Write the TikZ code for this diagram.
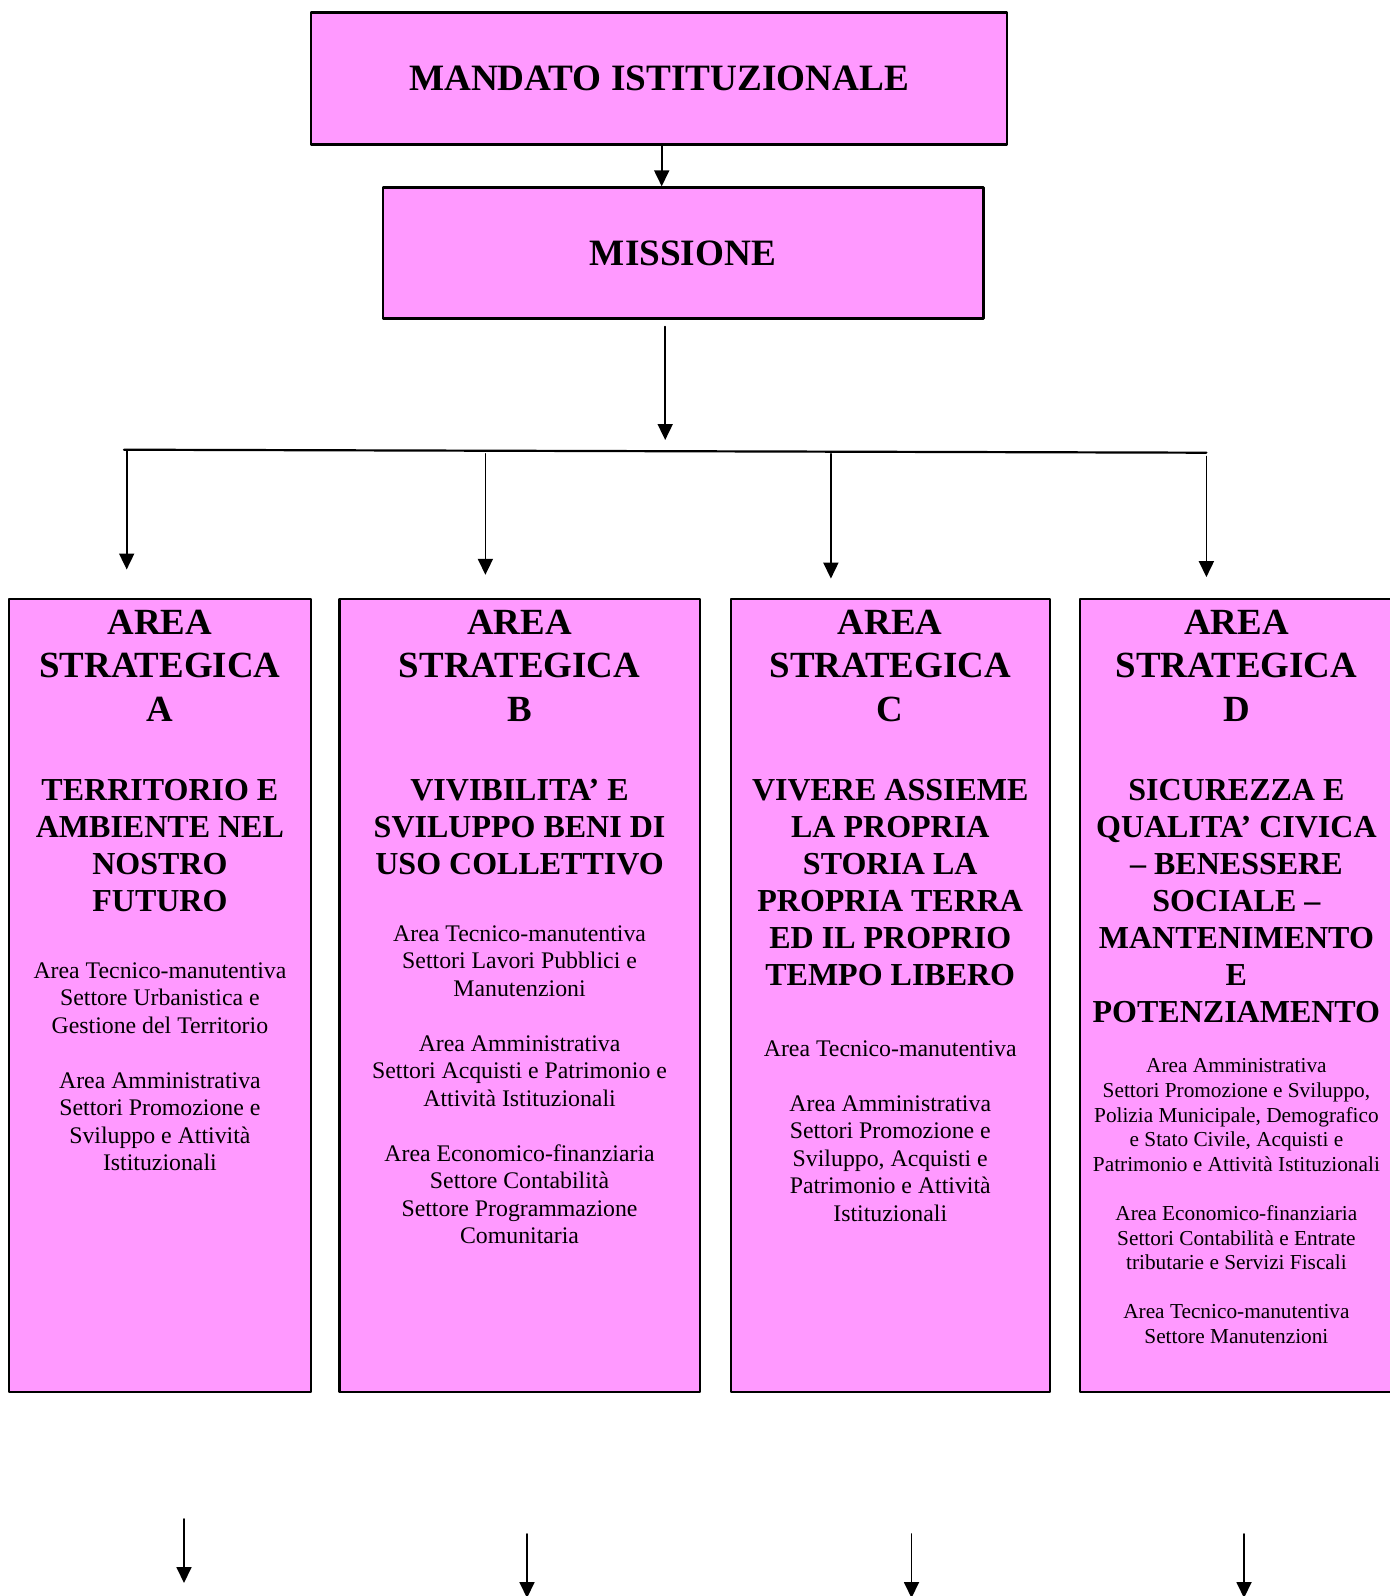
\documentclass[tikz,border=0pt]{standalone}
\usepackage{fontspec}
\setmainfont{Liberation Serif}
\usetikzlibrary{arrows.meta}
\definecolor{rosa}{HTML}{FF99FF}
\tikzset{
  mainbox/.style={draw, line width=1.2pt, fill=rosa, inner sep=0pt, font=\fontsize{18.6}{22}\selectfont\bfseries},
  areabox/.style={draw, line width=1.2pt, fill=rosa, inner sep=0pt, minimum height=396.35pt},
  areatitle/.style={anchor=north, align=center, inner sep=0pt, font=\fontsize{18.45}{21.75}\selectfont\bfseries},
  areasub/.style={anchor=north, align=center, inner sep=0pt, font=\fontsize{16}{18.5}\selectfont\bfseries},
  areatext/.style={anchor=north, align=center, inner sep=0pt, font=\fontsize{11.9}{13.75}\selectfont},
  areatextd/.style={anchor=north, align=center, inner sep=0pt, font=\fontsize{10.65}{12.3}\selectfont},
  freccia/.style={line width=0.9pt,->},
}
\begin{document}
\begin{tikzpicture}[line cap=round,line join=round,>={Triangle[length=8pt,width=7.5pt]},x=0.5pt,y=-0.5pt]
\useasboundingbox (0,0) rectangle (1389,1596);
% vertice
\node[mainbox, minimum width=348.2pt, minimum height=65.85pt] (mandato) at (659,78.45) {MANDATO ISTITUZIONALE};
\node[mainbox, minimum width=300.3pt, minimum height=65.45pt] (missione) at (683,253) {MISSIONE};
\draw[freccia] ([xshift=1.35pt]mandato.south) -- ([xshift=1.35pt]mandato.south |- missione.north);
% ramificazione
\coordinate (bus) at (665.2,440);
\coordinate (busL) at (124,449.7);
\coordinate (busR) at (1206.4,452.7);
\draw[freccia] ([yshift=-3.5pt]missione.south -| bus) -- (bus);
\draw[line width=1.1pt] (busL) -- (busR);
% aree strategiche
\node[areabox, minimum width=151pt] (areaA) at (159.9,995.35) {};
\node[areabox, minimum width=180.25pt] (areaB) at (519.55,995.35) {};
\node[areabox, minimum width=159.45pt] (areaC) at (890.25,995.35) {};
\node[areabox, minimum width=156.6pt] (areaD) at (1236.4,995.35) {};
\draw[freccia] (126.7,449.7) -- (126.7,569.5);
\draw[freccia] (485.4,453.9) -- (485.4,574.8);
\draw[freccia] (830.9,453.9) -- (830.9,578.6);
\draw[freccia] (1206.4,456.6) -- (1206.4,577.1);
% area A
\node[areatitle] (titA) at (159.9,609.6) {AREA\\STRATEGICA\\A};
\node[areasub] (subA) at (159.9,779.1) {TERRITORIO E\\AMBIENTE NEL\\NOSTRO\\FUTURO};
\node[areatext] (txtA) at (159.9,961.9) {Area Tecnico-manutentiva\\Settore Urbanistica e\\Gestione del Territorio\\[13.75pt]Area Amministrativa\\Settori Promozione e\\Sviluppo e Attività\\Istituzionali};
% area B
\node[areatitle] (titB) at (519.55,609.6) {AREA\\STRATEGICA\\B};
\node[areasub] (subB) at (519.55,779.1) {VIVIBILITA’ E\\SVILUPPO BENI DI\\USO COLLETTIVO};
\node[areatext] (txtB) at (519.55,925.2) {Area Tecnico-manutentiva\\Settori Lavori Pubblici e\\Manutenzioni\\[13.75pt]Area Amministrativa\\Settori Acquisti e Patrimonio e\\Attività Istituzionali\\[13.75pt]Area Economico-finanziaria\\Settore Contabilità\\Settore Programmazione\\Comunitaria};
% area C
\node[areatitle] (titC) at (890.25,609.6) {AREA\\STRATEGICA\\C};
\node[areasub] (subC) at (890.25,779.1) {VIVERE ASSIEME\\LA PROPRIA\\STORIA LA\\PROPRIA TERRA\\ED IL PROPRIO\\TEMPO LIBERO};
\node[areatext] (txtC) at (890.25,1040.2) {Area Tecnico-manutentiva\\[13.75pt]Area Amministrativa\\Settori Promozione e\\Sviluppo, Acquisti e\\Patrimonio e Attività\\Istituzionali};
% area D
\node[areatitle] (titD) at (1236.4,609.6) {AREA\\STRATEGICA\\D};
\node[areasub] (subD) at (1236.4,779.1) {SICUREZZA E\\QUALITA’ CIVICA\\– BENESSERE\\SOCIALE –\\MANTENIMENTO\\E\\POTENZIAMENTO};
\node[areatextd] (txtD) at (1236.4,1058.3) {Area Amministrativa\\Settori Promozione e Sviluppo,\\Polizia Municipale, Demografico\\e Stato Civile, Acquisti e\\Patrimonio e Attività Istituzionali\\[12.3pt]Area Economico-finanziaria\\Settori Contabilità e Entrate\\tributarie e Servizi Fiscali\\[12.3pt]Area Tecnico-manutentiva\\Settore Manutenzioni};
% frecce in basso
\coordinate (outA) at (184,1583);
\coordinate (outB) at (527,1598);
\coordinate (outC) at (911.5,1598);
\coordinate (outD) at (1244,1598);
\draw[freccia] (184,1519) -- (outA);
\draw[freccia] (527,1534) -- (outB);
\draw[freccia] (911.5,1534) -- (outC);
\draw[freccia] (1244,1534) -- (outD);
\end{tikzpicture}
\end{document}
